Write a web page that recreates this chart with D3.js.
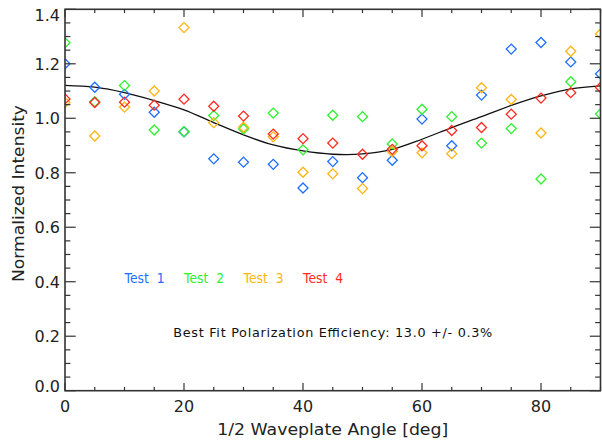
<!DOCTYPE html>
<html>
<head>
<meta charset="utf-8">
<script src="https://cdn.jsdelivr.net/npm/d3@7"></script>
<style>
  body { margin: 0; background: #fff; }
  svg { display: block; }
  text { font-family: 'DejaVu Sans', sans-serif; }
</style>
</head>
<body>
<svg id="chart" width="602" height="444"></svg>
<script>
// half waveplate angles [deg]
const angles = [0, 5, 10, 15, 20, 25, 30, 35, 40, 45, 50, 55, 60, 65, 70, 75, 80, 85, 90];

// normalized intensity, one array per test run
const test1 = [1.200, 1.114, 1.088, 1.022, 0.950, 0.851, 0.839, 0.831, 0.744, 0.841, 0.782, 0.846, 0.997, 0.899, 1.085, 1.254, 1.278, 1.207, 1.163];
const test2 = [1.277, 1.061, 1.120, 0.957, 0.951, 1.010, 0.961, 1.019, 0.884, 1.011, 1.006, 0.906, 1.033, 1.006, 0.909, 0.962, 0.777, 1.134, 1.016];
const test3 = [1.058, 0.935, 1.041, 1.100, 1.333, 0.984, 0.967, 0.932, 0.802, 0.796, 0.742, 0.878, 0.873, 0.870, 1.112, 1.069, 0.946, 1.246, 1.310];
const test4 = [1.071, 1.058, 1.059, 1.048, 1.070, 1.044, 1.008, 0.942, 0.925, 0.909, 0.868, 0.886, 0.899, 0.955, 0.966, 1.015, 1.074, 1.094, 1.113];

// best fit curve at the same angles
const fitCurve = [1.121, 1.114, 1.094, 1.065, 1.031, 0.984, 0.939, 0.902, 0.880, 0.868, 0.869, 0.886, 0.923, 0.966, 1.006, 1.047, 1.082, 1.108, 1.119];

const seriesNames = ['Test 1', 'Test 2', 'Test 3', 'Test 4'];
const seriesColors = ['#1f6fff', '#2ef02e', '#ffb414', '#ff2a1e'];
const legendX = [10, 20, 30, 40];

const xTicks = [0, 20, 40, 60, 80];
const yTicks = [0.0, 0.2, 0.4, 0.6, 0.8, 1.0, 1.2, 1.4];

const svg = d3.select('#chart');
const plot = { left: 65, right: 600.5, top: 9.3, bottom: 390.7 };
const pw = plot.right - plot.left;
const ph = plot.bottom - plot.top;

const x = d3.scaleLinear().domain([0, 90]).range([plot.left, plot.right]);
const y = d3.scaleLinear().domain([0, 1.4]).range([plot.bottom, plot.top]);

const axisColor = '#333';

svg.append('defs').append('clipPath').attr('id', 'plotClip')
  .append('rect')
  .attr('x', plot.left).attr('y', plot.top)
  .attr('width', pw).attr('height', ph);

// fit curve
const line = d3.line()
  .x((d, i) => x(angles[i]))
  .y(d => y(d))
  .curve(d3.curveCatmullRom);

svg.append('path')
  .attr('clip-path', 'url(#plotClip)')
  .attr('d', line(fitCurve))
  .attr('fill', 'none')
  .attr('stroke', '#111')
  .attr('stroke-width', 1.3);

// data points as diamonds
const diamond = d3.symbol().type(d3.symbolSquare).size(50);
const allTests = [test1, test2, test3, test4];
const pts = svg.append('g').attr('clip-path', 'url(#plotClip)');
allTests.forEach((vals, k) => {
  pts.append('g')
    .selectAll('path')
    .data(vals)
    .enter()
    .append('path')
    .attr('d', diamond)
    .attr('transform', (d, i) => `translate(${x(angles[i])},${y(d)}) rotate(45)`)
    .attr('fill', 'none')
    .attr('stroke', seriesColors[k])
    .attr('stroke-width', 1.3);
});

// ticks on all four sides (IDL style)
const xMajorLen = 0.02 * ph, yMajorLen = 0.02 * pw;
const xMinor = d3.range(0, 91, 5);
const yMinor = d3.range(0, 1.4001, 0.05);

const ticksG = svg.append('g').attr('stroke', axisColor).attr('stroke-width', 1.2);

xMinor.forEach(v => {
  const len = (Math.round(v) % 20 === 0) ? xMajorLen : xMajorLen / 2;
  ticksG.append('line').attr('x1', x(v)).attr('x2', x(v))
    .attr('y1', plot.bottom).attr('y2', plot.bottom - len);
  ticksG.append('line').attr('x1', x(v)).attr('x2', x(v))
    .attr('y1', plot.top).attr('y2', plot.top + len);
});
yMinor.forEach(v => {
  const major = Math.abs(v * 5 - Math.round(v * 5)) < 1e-6;
  const len = major ? yMajorLen : yMajorLen / 2;
  ticksG.append('line').attr('y1', y(v)).attr('y2', y(v))
    .attr('x1', plot.left).attr('x2', plot.left + len);
  ticksG.append('line').attr('y1', y(v)).attr('y2', y(v))
    .attr('x1', plot.right).attr('x2', plot.right - len);
});

svg.append('rect')
  .attr('x', plot.left).attr('y', plot.top)
  .attr('width', pw).attr('height', ph)
  .attr('fill', 'none')
  .attr('stroke', axisColor)
  .attr('stroke-width', 1.6);

// tick labels
svg.append('g').selectAll('text')
  .data(xTicks)
  .enter()
  .append('text')
  .attr('x', d => x(d))
  .attr('y', 411.7)
  .attr('text-anchor', 'middle')
  .attr('font-size', 16)
  .attr('fill', '#222')
  .text(d => d);

svg.append('g').selectAll('text')
  .data(yTicks)
  .enter()
  .append('text')
  .attr('x', 60)
  .attr('y', d => {
    // end labels are pushed inside the axis range
    const c = Math.min(Math.max(y(d), plot.top + 6), plot.bottom - 5);
    return c + 5.8;
  })
  .attr('text-anchor', 'end')
  .attr('font-size', 16)
  .attr('fill', '#222')
  .text(d => d.toFixed(1));

// axis titles
svg.append('text')
  .attr('x', x(45))
  .attr('y', 435)
  .attr('text-anchor', 'middle')
  .attr('font-size', 16)
  .attr('textLength', 231)
  .attr('lengthAdjust', 'spacingAndGlyphs')
  .attr('fill', '#222')
  .text('1/2 Waveplate Angle [deg]');

svg.append('text')
  .attr('transform', 'translate(24,193.5) rotate(-90)')
  .attr('text-anchor', 'middle')
  .attr('font-size', 16)
  .attr('textLength', 177)
  .attr('lengthAdjust', 'spacingAndGlyphs')
  .attr('fill', '#222')
  .text('Normalized Intensity');

// legend labels, placed in data coordinates
svg.append('g').selectAll('text')
  .data(seriesNames)
  .enter()
  .append('text')
  .attr('x', (d, i) => x(legendX[i]))
  .attr('y', y(0.397))
  .attr('font-size', 13.5)
  .style('white-space', 'pre')
  .attr('textLength', 40)
  .attr('lengthAdjust', 'spacingAndGlyphs')
  .attr('fill', (d, i) => seriesColors[i])
  .text(d => d.replace(' ', '  '));

svg.append('text')
  .attr('x', x(18.2))
  .attr('y', y(0.198))
  .attr('font-size', 12.8)
  .attr('textLength', 319)
  .attr('lengthAdjust', 'spacing')
  .attr('fill', '#111')
  .text('Best Fit Polarization Efficiency: 13.0 +/- 0.3%');
</script>
</body>
</html>
